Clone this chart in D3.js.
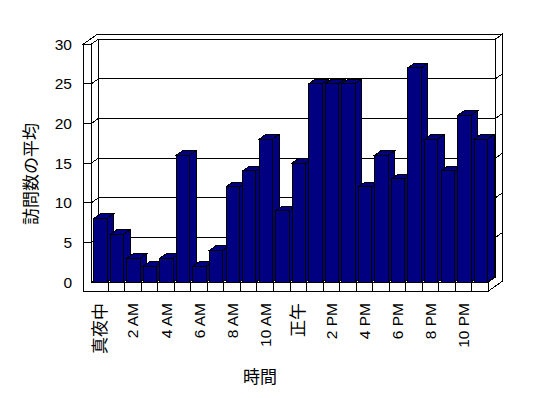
<!DOCTYPE html>
<html>
<head>
<meta charset="utf-8">
<script src="https://cdn.jsdelivr.net/npm/d3@7"></script>
<style>
  body { margin: 0; background: #ffffff; }
  text { fill: #000000; }
</style>
</head>
<body>
<div id="chart"></div>
<script>
// hourly categories, only every second label is shown on the axis
const hours = [
  "真夜中", "1 AM", "2 AM", "3 AM", "4 AM", "5 AM", "6 AM", "7 AM", "8 AM", "9 AM", "10 AM", "11 AM",
  "正午", "1 PM", "2 PM", "3 PM", "4 PM", "5 PM", "6 PM", "7 PM", "8 PM", "9 PM", "10 PM", "11 PM"
];
const visits = [8, 6, 3, 2, 3, 16, 2, 4, 12, 14, 18, 9, 15, 25, 25, 25, 12, 16, 13, 27, 18, 14, 21, 18];
const yTicks = [0, 5, 10, 15, 20, 25, 30];
const yTitle = "訪問数の平均";
const xTitle = "時間";

function createChart() {
  const width = 548;
  const height = 398;
  const barColor = "#000080";
  const latin = "'Liberation Sans', Arial, sans-serif";
  const cjk = "'Noto Sans CJK JP', sans-serif";

  const svg = d3
    .select("#chart")
    .append("svg")
    .attr("width", width)
    .attr("height", height)
    .style("display", "block");

  const x = d3.scaleBand().domain(hours).range([91.5, 488.5]);
  const y = d3.scaleLinear().domain([0, 30]).range([282, 44]);

  // 3d depth of walls and bars
  const dx = 6.8, dy = -4.8;
  const x0 = 91.5, x1 = 488.5, xo = 83.5;
  const yb = y(0), yt = y(30), yf = 291;

  const frame = svg
    .append("g")
    .attr("fill", "#ffffff")
    .attr("stroke", "#000000")
    .attr("stroke-width", 1)
    .attr("shape-rendering", "crispEdges");

  const poly = (pts) => "M" + pts.map((p) => p.join(",")).join("L") + "Z";

  // back wall, side wall, floor
  frame.append("path").attr("d", poly([[x0 + dx, yt + dy], [x1 + dx, yt + dy], [x1 + dx, yb + dy], [x0 + dx, yb + dy]]));
  frame.append("path").attr("d", poly([[x0, yt], [x0 + dx, yt + dy], [x0 + dx, yb + dy], [x0, yb]]));
  frame.append("path").attr("d", poly([[x0, yb], [x1, yb], [x1 + dx, yb + dy], [x0 + dx, yb + dy]]));
  frame.append("path").attr("d", poly([
    [xo, yt], [xo + 2 * dx, yt + 2 * dy], [x1 + 2 * dx, yt + 2 * dy], [x1 + dx, yt + dy], [x0 + dx, yt + dy], [x0, yt]
  ]));
  frame.append("path").attr("d", poly([
    [x1, yb], [x1, yf], [x1 + 2 * dx, yf + 2 * dy], [x1 + 2 * dx, yt + 2 * dy], [x1 + dx, yt + dy], [x1 + dx, yb + dy]
  ]));

  // gridlines across side wall, back wall and right edge
  frame
    .append("g")
    .attr("fill", "none")
    .selectAll("path")
    .data(yTicks.filter((v) => v > 0 && v < 30))
    .join("path")
    .attr("d", (v) => d3.line()([
      [x0, y(v)], [x0 + dx, y(v) + dy], [x1 + dx, y(v) + dy], [x1 + 2 * dx, y(v) + 2 * dy]
    ]));

  // bars
  const bw = x.bandwidth();
  const off = 2.2, fw = 13.4, bdx = 6.5, bdy = -4.6;
  const bar = svg
    .append("g")
    .attr("fill", barColor)
    .attr("stroke", "#000000")
    .attr("shape-rendering", "crispEdges")
    .selectAll("g")
    .data(hours.map((h, i) => ({ h, v: visits[i] })))
    .join("g");

  bar.append("path").attr("d", (d) => {
    const l = x(d.h) + off, r = l + fw, t = y(d.v);
    return poly([[r, yb], [r, t], [r + bdx, t + bdy], [r + bdx, yb + bdy]]);
  });
  bar.append("path").attr("d", (d) => {
    const l = x(d.h) + off, r = l + fw, t = y(d.v);
    return poly([[l, t], [r, t], [r + bdx, t + bdy], [l + bdx, t + bdy]]);
  });
  bar.append("path").attr("d", (d) => {
    const l = x(d.h) + off, r = l + fw, t = y(d.v);
    return poly([[l, t], [r, t], [r, yb], [l, yb]]);
  });

  // front face of side wall and floor
  const front = svg
    .append("g")
    .attr("fill", "#ffffff")
    .attr("stroke", "#000000")
    .attr("shape-rendering", "crispEdges");
  front.append("path").attr("d", poly([[xo, yt], [x0, yt], [x0, yb], [x1, yb], [x1, yf], [xo, yf]]));
  front
    .selectAll("line.div")
    .data(hours.slice(1))
    .join("line")
    .attr("x1", (h) => x(h))
    .attr("x2", (h) => x(h))
    .attr("y1", yb)
    .attr("y2", yf);
  front
    .selectAll("line.tick")
    .data(yTicks.filter((v) => v > 0 && v < 30))
    .join("line")
    .attr("x1", xo)
    .attr("x2", x0)
    .attr("y1", (v) => y(v))
    .attr("y2", (v) => y(v));

  // value labels
  svg
    .append("g")
    .selectAll("text")
    .data(yTicks)
    .join("text")
    .attr("x", 72)
    .attr("y", (v) => y(v))
    .attr("dy", "0.36em")
    .attr("text-anchor", "end")
    .style("font", `15.5px ${latin}`)
    .text((v) => v);

  // hour labels, every second one
  svg
    .append("g")
    .selectAll("text")
    .data(hours.filter((h, i) => i % 2 === 0))
    .join("text")
    .attr("transform", (h) => `translate(${x(h) + bw / 2},303) rotate(-90)`)
    .attr("dy", "0.36em")
    .attr("text-anchor", "end")
    .style("font-family", (h) => (/[A-Z]/.test(h) ? latin : cjk))
    .style("font-size", (h) => (/[A-Z]/.test(h) ? "15.5px" : "17px"))
    .text((h) => h);

  svg
    .append("text")
    .attr("transform", "translate(31,174) rotate(-90)")
    .attr("text-anchor", "middle")
    .attr("dy", "0.36em")
    .style("font", `17px ${cjk}`)
    .text(yTitle);

  svg
    .append("text")
    .attr("x", 260)
    .attr("y", 377)
    .attr("text-anchor", "middle")
    .attr("dy", "0.36em")
    .style("font", `17px ${cjk}`)
    .text(xTitle);
}

document.addEventListener("DOMContentLoaded", createChart);
</script>
</body>
</html>
